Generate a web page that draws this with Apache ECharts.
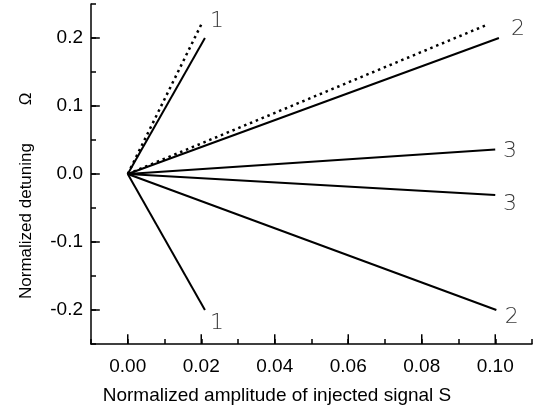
<!DOCTYPE html>
<html>
<head>
<meta charset="utf-8">
<script src="https://cdn.jsdelivr.net/npm/echarts@6/dist/echarts.min.js"></script>
<style>
html,body{margin:0;padding:0;background:#fff;}
#chart{width:537px;height:417px;}
</style>
</head>
<body>
<div id="chart"></div>
<script>
// ---- data ----
var xMajorTicks = [0, 0.02, 0.04, 0.06, 0.08, 0.10];
var yMajorTicks = [-0.2, -0.1, 0, 0.1, 0.2];

var line1Up   = [[0, 0], [0.021, 0.2]];
var line1Down = [[0, 0], [0.021, -0.2]];
var line1Dot  = [[0, 0], [0.0202, 0.222]];
var line2Up   = [[0, 0], [0.101, 0.2]];
var line2Down = [[0, 0], [0.1003, -0.2]];
var line2Dot  = [[0, 0], [0.098, 0.22]];
var line3Up   = [[0, 0], [0.1, 0.036]];
var line3Down = [[0, 0], [0.1, -0.031]];

var curveLabels = [
  [0.0243, 0.225, '1'],
  [0.1062, 0.2127, '2'],
  [0.1040, 0.0331, '3'],
  [0.1040, -0.044, '3'],
  [0.1045, -0.211, '2'],
  [0.0243, -0.220, '1']
];

var xTitle = 'Normalized amplitude of injected signal S';
var yTitle = 'Normalized detuning';
var yTitleSymbol = 'Ω';

// ---- chart ----
var X_MIN = -0.01, X_MAX = 0.11, Y_MIN = -0.25, Y_MAX = 0.25;
var chart = echarts.init(document.getElementById('chart'), null, {renderer: 'canvas'});
var FONT = '"Liberation Sans", Arial, sans-serif';

function solid(data) {
  return {type: 'line', data: data, symbol: 'none',
    lineStyle: {color: '#000', width: 2}, silent: true, animation: false};
}
function dotted(data) {
  return {type: 'line', data: data, symbol: 'none',
    lineStyle: {color: '#000', width: 2.5, type: [2.5, 3.8]}, silent: true, animation: false};
}
// major tick marks drawn as short line series through the axis scales
function majorTickSeries(values, dir) {
  return values.map(function (v) {
    var d = dir === 'x' ? [[v, Y_MIN], [v, Y_MIN + 0.0145]] : [[X_MIN, v], [X_MIN + 0.0024, v]];
    return {type: 'line', data: d, symbol: 'none', silent: true, z: 5,
      lineStyle: {color: '#000', width: 1.5}};
  });
}

var series = [
  solid(line1Up), solid(line1Down), dotted(line1Dot),
  solid(line2Up), solid(line2Down), dotted(line2Dot),
  solid(line3Up), solid(line3Down),
  {
    type: 'scatter', data: curveLabels, symbolSize: 0, silent: true,
    label: {show: true, position: 'inside', color: '#000', fontSize: 22,
      fontFamily: '"DejaVu Sans", sans-serif', fontWeight: 200,
      formatter: function (p) { return p.value[2]; }}
  }
].concat(majorTickSeries(xMajorTicks, 'x'), majorTickSeries(yMajorTicks, 'y'));

var option = {
  animation: false,
  grid: {left: 91, top: 4, right: 5, bottom: 73, containLabel: false},
  xAxis: {
    type: 'value', min: X_MIN, max: X_MAX, interval: 0.01, position: 'bottom',
    axisLine: {show: true, onZero: false, lineStyle: {color: '#000', width: 1.5}},
    axisTick: {show: true, inside: true, length: 5, lineStyle: {color: '#000', width: 1.5}},
    axisLabel: {show: true, margin: 13, color: '#000', fontSize: 19, fontFamily: FONT,
      formatter: function (v) {
        var k = Math.round(v * 100);
        return (k >= 0 && k <= 10 && k % 2 === 0) ? (k / 100).toFixed(2) : '';
      }},
    splitLine: {show: false}
  },
  yAxis: {
    type: 'value', min: Y_MIN, max: Y_MAX, interval: 0.05, position: 'left',
    axisLine: {show: true, onZero: false, lineStyle: {color: '#000', width: 1.5}},
    axisTick: {show: true, inside: true, length: 5, lineStyle: {color: '#000', width: 1.5}},
    axisLabel: {show: true, margin: 8, color: '#000', fontSize: 19, fontFamily: FONT,
      formatter: function (v) {
        var k = Math.round(v * 100);
        return (Math.abs(k) <= 20 && k % 10 === 0) ? (k / 100).toFixed(1) : '';
      }},
    splitLine: {show: false}
  },
  series: series,
  graphic: [
    {type: 'text', x: 277, y: 396, silent: true,
      style: {text: xTitle, font: '19px ' + FONT, fill: '#000', textAlign: 'center', textVerticalAlign: 'middle'}},
    {type: 'text', x: 26, y: 221, rotation: Math.PI / 2, silent: true,
      style: {text: yTitle, font: '17px ' + FONT, fill: '#000', textAlign: 'center', textVerticalAlign: 'middle'}},
    {type: 'text', x: 26, y: 99, rotation: Math.PI / 2, silent: true,
      style: {text: yTitleSymbol, font: '17px ' + FONT, fill: '#000', textAlign: 'center', textVerticalAlign: 'middle'}}
  ]
};
chart.setOption(option);
</script>
</body>
</html>
